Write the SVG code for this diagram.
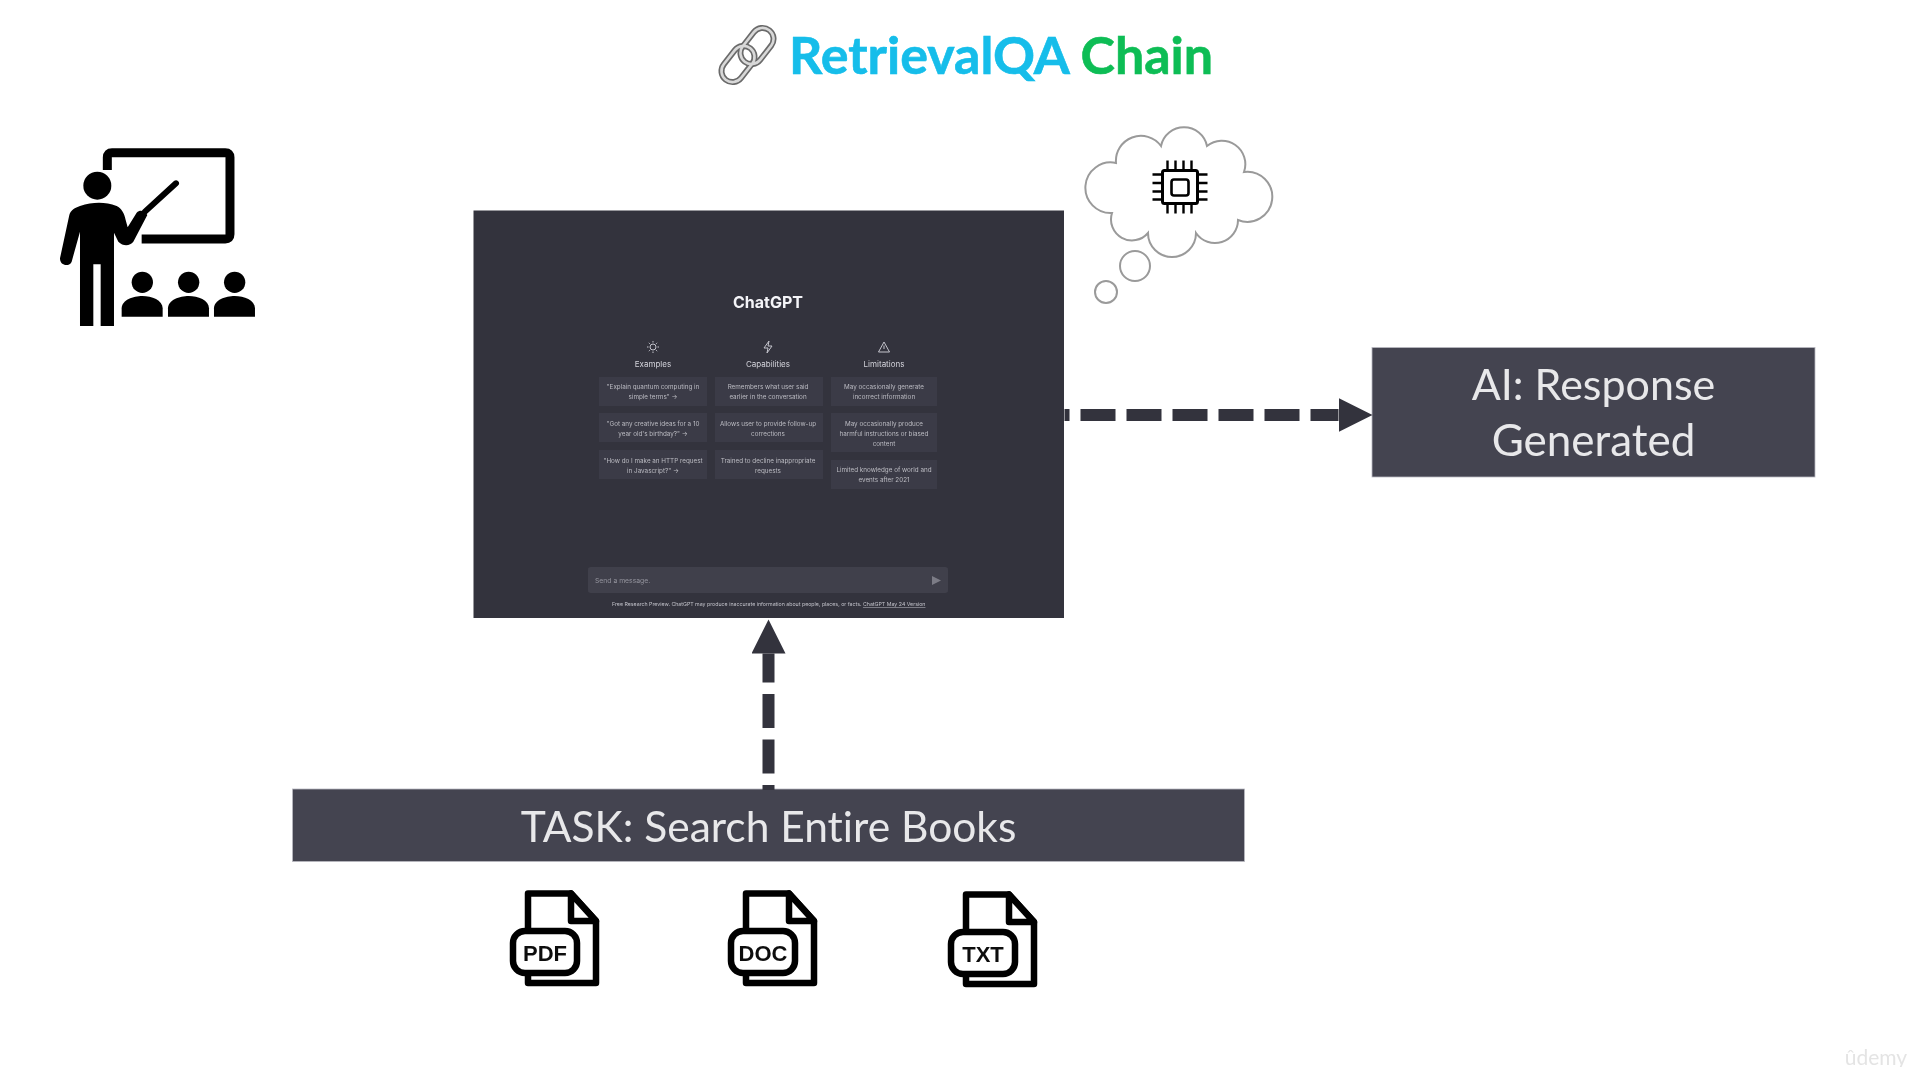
<svg xmlns="http://www.w3.org/2000/svg" width="1919" height="1067" viewBox="0 0 1919 1067">
<style>
.dark{fill:#33333d}
.box{fill:#444450;stroke:#b8b8c0;stroke-width:.8}
.lab{font-family:Lato,"Liberation Sans",sans-serif;fill:#e8e8ea;text-anchor:middle;font-variant-ligatures:none}
.gpt{font-family:Inter,"Liberation Sans",sans-serif;text-anchor:middle}
.h{font-size:8px;fill:#d2d2da}
.t{font-size:6.3px;fill:#bcbcc4}
.card{fill:#3b3b46}
.dash{fill:none;stroke:#33333d;stroke-width:12}
.f{fill:#fff;stroke:#000;stroke-width:6.500;stroke-linejoin:round;stroke-linecap:round}
.ft{font-family:"Liberation Sans",Arial,sans-serif;font-weight:700;font-size:22px;text-anchor:middle;fill:#111}
.pin{stroke:#000;stroke-width:2.400;fill:none}
.ttl{font-family:Lato,"Liberation Sans",sans-serif;font-weight:700;font-size:52px;stroke-width:.6px}
</style>
<defs>
<filter id="soft" x="-5%" y="-5%" width="110%" height="110%"><feGaussianBlur stdDeviation="0.55"/></filter>
<filter id="softer" x="-5%" y="-5%" width="110%" height="110%"><feGaussianBlur stdDeviation="0.45"/></filter>
<marker id="head" markerUnits="userSpaceOnUse" markerWidth="36" markerHeight="36" refX="0" refY="17" orient="auto"><path d="M0 0L34 17L0 34Z" fill="#33333d"/></marker>
<g id="sheet"><path class="f" fill="none" d="M28 38V3.500H71L96 31V93H28V86"/><path class="f" d="M71 3.500V31H96Z"/><rect class="f" x="13" y="41" width="64" height="42" rx="12"/></g>
</defs>
<rect width="1919" height="1067" fill="#fff"/>
<g id="title" filter="url(#softer)">
<g id="link" fill="none" stroke-linecap="round">
<g stroke="#6b6b6b" stroke-width="6"><rect x="-11" y="-20" width="22" height="40" rx="11" transform="translate(757 46) rotate(38)"/><rect x="-11" y="-20" width="22" height="40" rx="11" transform="translate(738 64) rotate(38)"/></g>
<g stroke="#d8d8d8" stroke-width="2.600"><rect x="-11" y="-20" width="22" height="40" rx="11" transform="translate(757 46) rotate(38)"/><rect x="-11" y="-20" width="22" height="40" rx="11" transform="translate(738 64) rotate(38)"/></g>
</g>
<text class="ttl" x="789" y="74" fill="#13bdea" stroke="#13bdea">RetrievalQA</text>
<text class="ttl" x="1080.500" y="74" fill="#10bd55" stroke="#10bd55">Chain</text>
</g>
<g id="teacher" transform="translate(30 120) scale(.3333)" filter="url(#softer)">
<path d="M232 150V112Q232 98 246 98H586Q600 98 600 112V343Q600 357 586 357H335" fill="none" stroke="#000" stroke-width="27"/>
<circle cx="202" cy="197" r="42"/>
<path d="M150 258C190 245 225 245 260 258C275 265 283 280 287 300L293 322L320 278C330 268 345 272 352 285L310 365C300 378 280 380 265 365L252 338V618H212V433H190V618H150V335L125 425C120 440 90 440 90 415L118 285C122 270 135 263 150 258Z"/>
<path d="M345 275L438 190" stroke="#000" stroke-width="18" stroke-linecap="round"/>
<g><circle cx="337" cy="487" r="32"/><path d="M275 590V565C275 540 310 528 337 528C365 528 398 540 398 565V590Z"/></g>
<g transform="translate(139 0)"><circle cx="337" cy="487" r="32"/><path d="M275 590V565C275 540 310 528 337 528C365 528 398 540 398 565V590Z"/></g>
<g transform="translate(277 0)"><circle cx="337" cy="487" r="32"/><path d="M275 590V565C275 540 310 528 337 528C365 528 398 540 398 565V590Z"/></g>
</g>
<g id="chatgpt">
<rect class="dark" x="473.500" y="210.500" width="590.500" height="407.500"/>
<g filter="url(#soft)">
<text class="gpt" x="768" y="308" font-size="16" font-weight="700" fill="#f4f4f8">ChatGPT</text>
<g fill="none" stroke="#c4c4cc" stroke-width="1"><circle cx="653" cy="347" r="3"/><path d="M653 341V342.500M653 351.500V353M647 347H648.500M657.500 347H659M648.800 342.800L649.800 343.800M656.200 350.200L657.200 351.200M648.800 351.200L649.800 350.200M656.200 343.800L657.200 342.800"/><path d="M769 341L764 348H768L767 353L772 346H768Z"/><path d="M884 342L878.500 352H889.500ZM884 345.500V349"/></g>
<text class="gpt h" x="653" y="367">Examples</text><text class="gpt h" x="768" y="367">Capabilities</text><text class="gpt h" x="884" y="367">Limitations</text>
<g><rect class="card" x="599" y="377" width="108" height="29"/><rect class="card" x="599" y="413" width="108" height="29"/><rect class="card" x="599" y="450" width="108" height="29"/><rect class="card" x="715" y="377" width="108" height="29"/><rect class="card" x="715" y="413" width="108" height="29"/><rect class="card" x="715" y="450" width="108" height="29"/><rect class="card" x="831" y="377" width="106" height="29"/><rect class="card" x="831" y="413" width="106" height="39"/><rect class="card" x="831" y="460" width="106" height="29"/></g>
<text class="gpt t" x="653" y="389">"Explain quantum computing in</text><text class="gpt t" x="653" y="399">simple terms" →</text>
<text class="gpt t" x="653" y="426">"Got any creative ideas for a 10</text><text class="gpt t" x="653" y="436">year old's birthday?" →</text>
<text class="gpt t" x="653" y="463">"How do I make an HTTP request</text><text class="gpt t" x="653" y="473">in Javascript?" →</text>
<text class="gpt t" x="768" y="389">Remembers what user said</text><text class="gpt t" x="768" y="399">earlier in the conversation</text>
<text class="gpt t" x="768" y="426">Allows user to provide follow-up</text><text class="gpt t" x="768" y="436">corrections</text>
<text class="gpt t" x="768" y="463">Trained to decline inappropriate</text><text class="gpt t" x="768" y="473">requests</text>
<text class="gpt t" x="884" y="389">May occasionally generate</text><text class="gpt t" x="884" y="399">incorrect information</text>
<text class="gpt t" x="884" y="426">May occasionally produce</text><text class="gpt t" x="884" y="436">harmful instructions or biased</text><text class="gpt t" x="884" y="446">content</text>
<text class="gpt t" x="884" y="472">Limited knowledge of world and</text><text class="gpt t" x="884" y="482">events after 2021</text>
<rect x="588" y="567" width="360" height="26" rx="3" fill="#40404b"/>
<text x="595" y="583" font-family="Inter,'Liberation Sans',sans-serif" font-size="6.800" fill="#93939d">Send a message.</text>
<path d="M932 576L941 580.500L932 585Z" fill="#7c7c86"/>
<text x="612" y="606" font-family="Inter,'Liberation Sans',sans-serif" font-size="5.250" fill="#c0c0c8">Free Research Preview. ChatGPT may produce inaccurate information about people, places, or facts. <tspan text-decoration="underline">ChatGPT May 24 Version</tspan></text>
</g>
</g>
<g id="thought" filter="url(#softer)">
<g fill="#fff" stroke="#9a9a9a" stroke-width="2"><path d="M1116 163A25 25 0 0 1 1161 146A23.500 23.500 0 0 1 1207 146A23.500 23.500 0 0 1 1244 172A25 25 0 1 1 1238 220A23 23 0 0 1 1196 233A24 24 0 0 1 1148 233A21 21 0 0 1 1112 213A25.300 25.300 0 1 1 1116 163Z"/><circle cx="1135" cy="266" r="15"/><circle cx="1106" cy="292" r="11"/></g>
<g id="chip" transform="translate(-2.500 -.500)"><rect x="1165" y="171" width="35" height="33" rx="2" fill="none" stroke="#000" stroke-width="3"/><rect x="1174" y="180" width="17" height="16" rx="2.500" fill="none" stroke="#000" stroke-width="2.600"/><path class="pin" d="M1170 161V170M1178 161V170M1186 161V170M1194 161V170M1170 205V214M1178 205V214M1186 205V214M1194 205V214M1155 175H1164M1155 183.500H1164M1155 192H1164M1155 200H1164M1201 175H1210M1201 183.500H1210M1201 192H1210M1201 200H1210"/></g>
</g>
<g id="response">
<rect class="box" x="1372" y="347.500" width="443" height="129.500"/>
<g filter="url(#softer)"><text class="lab" x="1593.500" y="400" font-size="43">AI: Response</text><text class="lab" x="1593.500" y="456" font-size="44">Generated</text></g>
</g>
<g id="task">
<rect class="box" x="292.500" y="789" width="952" height="72.500"/>
<text class="lab" x="768.500" y="842" font-size="42.500" filter="url(#softer)">TASK: Search Entire Books</text>
</g>
<g id="files" filter="url(#softer)">
<g id="pdf"><use href="#sheet" x="500" y="890"/><text class="ft" x="545" y="961">PDF</text></g>
<g id="doc"><use href="#sheet" x="718" y="890"/><text class="ft" x="763" y="961">DOC</text></g>
<g id="txt"><use href="#sheet" x="938" y="891"/><text class="ft" x="983" y="962">TXT</text></g>
</g>
<g id="connectors">
<path class="dash" d="M1064.500 415H1338.500" stroke-dasharray="35 11" stroke-dashoffset="30" marker-end="url(#head)"/>
<path class="dash" d="M768.500 790V653.500" stroke-dasharray="34 11.500" stroke-dashoffset="29" marker-end="url(#head)"/>
</g>
<text x="1876" y="1065" font-family="Lato,'Liberation Sans',sans-serif" font-size="21" fill="#e4e4e4" text-anchor="middle" filter="url(#soft)">ûdemy</text>
</svg>
